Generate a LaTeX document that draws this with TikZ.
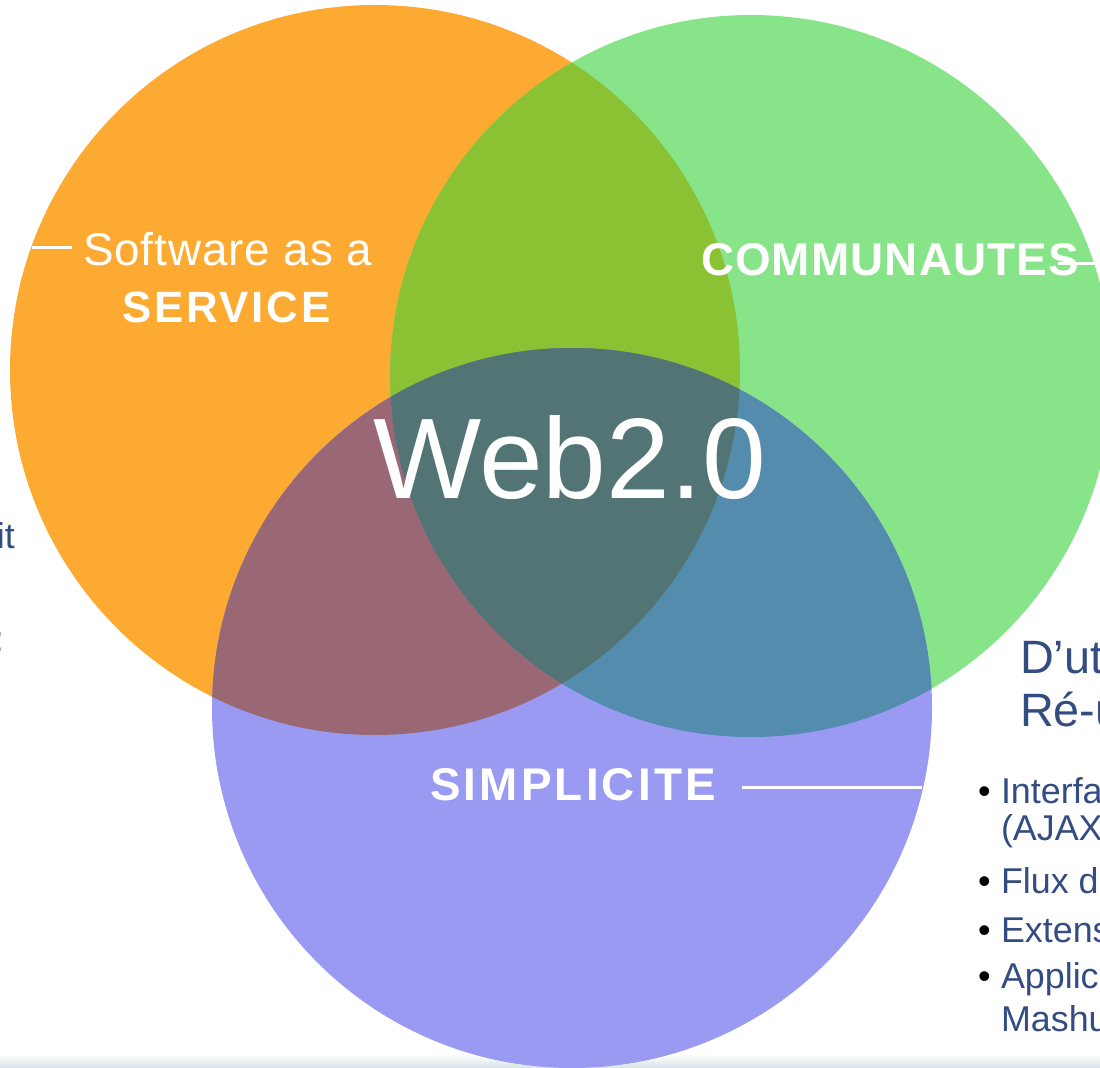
\documentclass[tikz,border=0pt]{standalone}
\usepackage{fontspec}
\setmainfont{Liberation Sans}
\definecolor{cOr}{HTML}{FDAA32}
\definecolor{cGr}{HTML}{88E488}
\definecolor{cPu}{HTML}{9A9AF3}
\definecolor{cOG}{HTML}{8BC233}
\definecolor{cOP}{HTML}{9A6874}
\definecolor{cGP}{HTML}{548CAE}
\definecolor{cOGP}{HTML}{537474}
\definecolor{cTxt}{HTML}{334C82}
\definecolor{cBand}{HTML}{D9E3E8}
\tikzset{
  lbl/.style={inner sep=0pt, outer sep=0pt, anchor=base west, text=white},
  bodytxt/.style={inner sep=0pt, outer sep=0pt, anchor=base west, text=cTxt},
  wline/.style={draw=white, line width=3bp},
}
\begin{document}
\begin{tikzpicture}[x=1bp,y=-1bp]
\useasboundingbox (0,0) rectangle (1100,1068);
\clip (0,0) rectangle (1100,1068);
\shade[top color=white, bottom color=cBand] (0,1054) rectangle (1100,1068);
\coordinate (A) at (375,370);
\coordinate (B) at (751,376);
\coordinate (C) at (572,708);
\fill[cOr] (A) circle[radius=365bp];
\fill[cGr] (B) circle[radius=361bp];
\fill[cPu] (C) circle[radius=360bp];
\begin{scope}
  \clip (A) circle[radius=365bp];
  \fill[cOG] (B) circle[radius=361bp];
  \fill[cOP] (C) circle[radius=360bp];
\end{scope}
\begin{scope}
  \clip (B) circle[radius=361bp];
  \fill[cGP] (C) circle[radius=360bp];
\end{scope}
\begin{scope}
  \clip (A) circle[radius=365bp];
  \clip (B) circle[radius=361bp];
  \fill[cOGP] (C) circle[radius=360bp];
\end{scope}
% Web2.0
\node[lbl] (web) at (373,498) {\fontsize{115}{120}\selectfont Web2.0};
% Software as a SERVICE
\node[lbl] (saas) at (83,265) {\fontsize{46}{50}\selectfont\addfontfeatures{LetterSpace=2}Software as a};
\node[lbl] (serv) at (122,322) {\fontsize{44}{50}\selectfont\bfseries\addfontfeatures{LetterSpace=6.5}SERVICE};
\coordinate (saasL) at (32,247);
\coordinate (saasR) at (72,247);
\draw[wline] (saasL) -- (saasR);
% COMMUNAUTES
\node[lbl] (comm) at (701,275) {\fontsize{46}{50}\selectfont\bfseries\addfontfeatures{LetterSpace=2.5}COMMUNAUTES};
\coordinate (commL) at (1058,263);
\coordinate (commR) at (1100,263);
\draw[wline] (commL) -- (commR);
% SIMPLICITE
\node[lbl] (simp) at (430,800) {\fontsize{46}{50}\selectfont\bfseries\addfontfeatures{LetterSpace=7}SIMPLICITE};
\coordinate (simpL) at (742,787);
\coordinate (simpR) at (922,787);
\draw[wline] (simpL) -- (simpR);
% right text
\node[bodytxt] (dut) at (1020,673) {\fontsize{47}{50}\selectfont D’ut};
\node[bodytxt] (reu) at (1020,726) {\fontsize{47}{50}\selectfont Ré-u};
\node[bodytxt] (b1) at (1001,803) {\fontsize{36}{40}\selectfont Interfa};
\node[bodytxt] (b1b) at (1001,840) {\fontsize{36}{40}\selectfont (AJAX};
\node[bodytxt] (b2) at (1001,893) {\fontsize{36}{40}\selectfont Flux d};
\node[bodytxt] (b3) at (1001,942) {\fontsize{36}{40}\selectfont Extens};
\node[bodytxt] (b4) at (1001,988) {\fontsize{36}{40}\selectfont Applic};
\node[bodytxt] (b4b) at (1001,1031) {\fontsize{36}{40}\selectfont Mashu};
\foreach \yy/\nm in {803/d1, 893/d2, 942/d3, 988/d4}
  \node[inner sep=0pt, anchor=base west, text=black] (\nm) at (978,\yy) {\fontsize{36}{40}\selectfont •};
% left cut text
\node[bodytxt] (lit) at (-3,548) {\fontsize{36}{40}\selectfont it};
\node[bodytxt] (lcol) at (-6,651) {\fontsize{36}{40}\selectfont :};
\end{tikzpicture}
\end{document}
